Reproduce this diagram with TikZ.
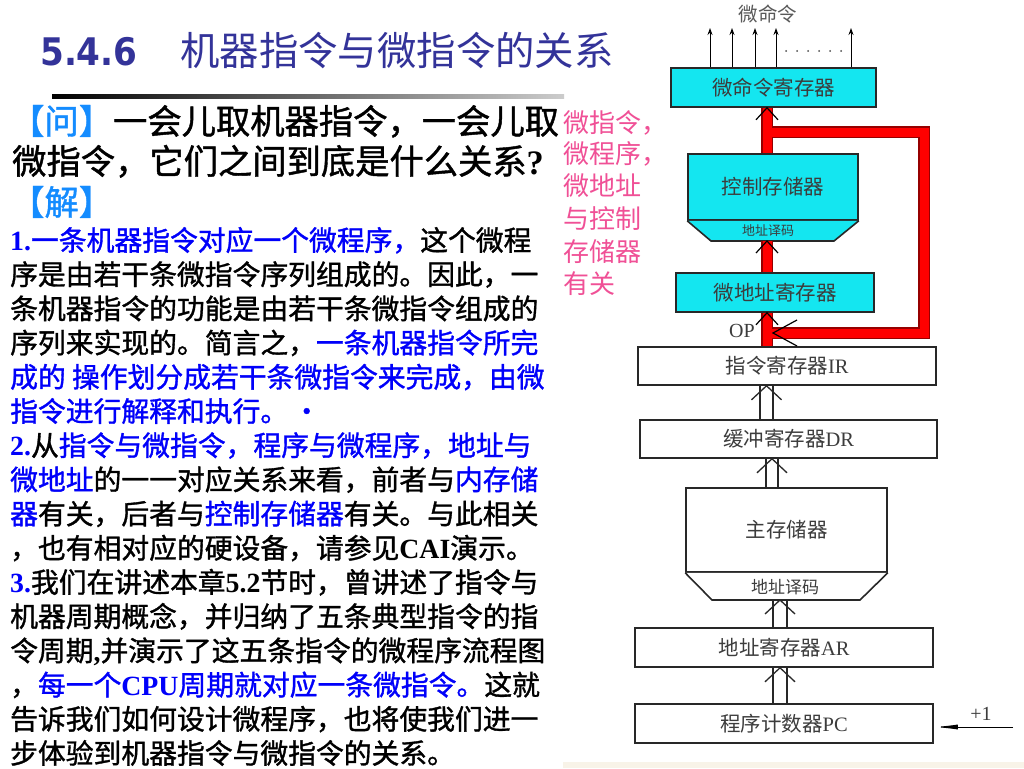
\documentclass[tikz,border=0pt]{standalone}
\usepackage{fontspec}
\usepackage{graphicx}
\setmainfont{Noto Sans CJK SC}
\newfontfamily\heavy{Noto Sans CJK SC}[FakeBold=1.2]
\newfontfamily\tnr{Liberation Serif}
\newfontfamily\djv{DejaVu Sans}
\usetikzlibrary{arrows.meta,calc}
\definecolor{bblue}{RGB}{0,0,250}
\definecolor{qblue}{RGB}{20,140,255}
\definecolor{pinkc}{RGB}{240,80,150}
\definecolor{ttl}{RGB}{51,51,153}
\definecolor{dg}{RGB}{60,60,60}
\definecolor{lc}{RGB}{40,40,40}
\definecolor{cy}{RGB}{20,230,240}
\definecolor{bandedge}{RGB}{150,0,0}
\definecolor{beige}{RGB}{248,243,232}
\newcommand\bl[1]{\textcolor{bblue}{#1}}
\newcommand\lb[1]{{\tnr\bfseries #1}}
\newcommand\hollowarr[4]{%
  \coordinate (ha) at (#3,0);
  \coordinate (hb) at (#4,0);
  \coordinate (hm) at ({(#3+#4)/2},0);
  \draw[dl] (ha |- #1) -- (ha |- #2);
  \draw[dl] (hb |- #1) -- (hb |- #2);
  \draw[dl] ($(hm |- #2)+(-15,14)$) -- (hm |- #2) -- ($(hm |- #2)+(15,14)$);}
\begin{document}
\begin{tikzpicture}[x=1pt,y=-1pt,
  box/.style={draw=lc, line width=1.6pt, inner sep=0pt, text=dg, font=\fontsize{20.5}{22}\selectfont},
  cybox/.style={box, fill=cy},
  wbox/.style={box, fill=white},
  trap/.style={fill=cy, draw=lc, line width=1.6pt},
  dl/.style={draw=lc, line width=1.3pt},
  chev/.style={draw=black, line width=1.2pt},
  up/.style={draw=black, line width=1pt, -{Stealth[length=7pt,width=5pt]}},
  dlabel/.style={inner sep=0pt, text=dg},
  q/.style={anchor=base west, inner sep=0pt, font=\heavy\fontsize{34.3}{36}\selectfont},
  body/.style={anchor=base west, inner sep=0pt, font=\heavy\fontsize{27.8}{30}\selectfont},
  pk/.style={anchor=base west, inner sep=0pt, text=pinkc, font=\fontsize{26}{28}\selectfont}
]
\fill[white] (0,0) rectangle (1024,768);
\useasboundingbox (0,0) rectangle (1024,768);
\fill[beige] (563,762) rectangle (1024,768);

% ---------- title ----------
\node[anchor=base west, inner sep=0pt, text=ttl] (tnum) at (40,65)
  {\djv\bfseries\fontsize{38}{40}\selectfont\scalebox{0.9}[1]{5.4.6}};
\node[anchor=base west, inner sep=0pt, text=ttl, font=\fontsize{39.4}{42}\selectfont] (ttxt) at (180,66)
  {机器指令与微指令的关系};
\shade[left color=black, right color=black!20] (52,94) rectangle (564,98);

% ---------- question ----------
\node[q] (q1) at (10,134) {\textcolor{qblue}{【问】}一会儿取机器指令，一会儿取};
\node[q] (q2) at (12,174) {微指令，它们之间到底是什么关系\lb{?}};
\node[q] (q3) at (10,215) {\textcolor{qblue}{【解】}};

% ---------- body ----------
\node[body] (b1)  at (10,250.6) {\bl{\lb{1.}一条机器指令对应一个微程序，}这个微程};
\node[body] (b2)  at (10,284.8) {序是由若干条微指令序列组成的。因此，一};
\node[body] (b3)  at (10,319.0) {条机器指令的功能是由若干条微指令组成的};
\node[body] (b4)  at (10,353.2) {序列来实现的。简言之，\bl{一条机器指令所完}};
\node[body] (b5)  at (10,387.4) {\bl{成的 操作划分成若干条微指令来完成，由微}};
\node[body] (b6)  at (10,421.6) {\bl{指令进行解释和执行。\,·}};
\node[body] (b7)  at (10,455.8) {\bl{\lb{2.}}从\bl{指令与微指令，程序与微程序，地址与}};
\node[body] (b8)  at (10,490.0) {\bl{微地址}的一一对应关系来看，前者与\bl{内存储}};
\node[body] (b9)  at (10,524.2) {\bl{器}有关，后者与\bl{控制存储器}有关。与此相关};
\node[body] (b10) at (10,558.4) {，也有相对应的硬设备，请参见\lb{CAI}演示。};
\node[body] (b11) at (10,592.6) {\bl{\lb{3.}}我们在讲述本章\lb{5.2}节时，曾讲述了指令与};
\node[body] (b12) at (10,626.8) {机器周期概念，并归纳了五条典型指令的指};
\node[body] (b13) at (10,661.0) {令周期\lb{,}并演示了这五条指令的微程序流程图};
\node[body] (b14) at (10,695.2) {，\bl{每一个\lb{CPU}周期就对应一条微指令。}这就};
\node[body] (b15) at (10,729.4) {告诉我们如何设计微程序，也将使我们进一};
\node[body] (b16) at (10,763.6) {步体验到机器指令与微指令的关系。};

% ---------- pink note ----------
\node[pk] (p1) at (563,132) {微指令，};
\node[pk] (p2) at (563,163) {微程序，};
\node[pk] (p3) at (563,195) {微地址};
\node[pk] (p4) at (563,228) {与控制};
\node[pk] (p5) at (563,261) {存储器};
\node[pk] (p6) at (563,293) {有关};

% ---------- diagram boxes ----------
\node[dlabel, font=\fontsize{19.5}{21}\selectfont, text=black!65] (mcl) at (768,14) {微命令};
\node[cybox, minimum width=205, minimum height=39] (mcr) at (773.5,87.5) {微命令寄存器};
\node[cybox, minimum width=170, minimum height=66] (cm) at (773,187) {控制存储器};
\coordinate (cmbl) at (711,241);
\coordinate (cmbr) at (834,241);
\filldraw[trap] (cm.south west) -- (cmbl) -- (cmbr) -- (cm.south east);
\node[dlabel, font=\fontsize{13}{14}\selectfont] (cmdec) at (768,230.5) {地址译码};
\node[cybox, minimum width=198, minimum height=39] (maddr) at (775,292.5) {微地址寄存器};
\node[wbox, minimum width=298, minimum height=38] (ir) at (787,366) {指令寄存器{\tnr IR}};
\node[wbox, minimum width=297, minimum height=38] (dr) at (788.5,439) {缓冲寄存器{\tnr DR}};
\node[wbox, minimum width=201, minimum height=84] (mm) at (786.5,530) {主存储器};
\coordinate (mmbl) at (712,600);
\coordinate (mmbr) at (860,600);
\filldraw[trap, fill=white] (mm.south west) -- (mmbl) -- (mmbr) -- (mm.south east);
\node[dlabel, font=\fontsize{17}{18}\selectfont] (mmdec) at (785,587) {地址译码};
\node[wbox, minimum width=298, minimum height=39] (ar) at (784,647.5) {地址寄存器{\tnr AR}};
\node[wbox, minimum width=298, minimum height=39] (pc) at (784,723.5) {程序计数器{\tnr PC}};

% ---------- micro-command outputs ----------
\foreach \xx in {710,732,755,776,851} {
  \coordinate (tip\xx) at (\xx,28);
  \draw[up] (tip\xx |- mcr.north) -- (tip\xx);
}
\foreach \xx in {786,797,808,819,830,841} \fill[black!70] (\xx,51) circle (1pt);

% ---------- red bands ----------
\coordinate (bx) at (767,0);
\coordinate (lp1) at (767,132);
\coordinate (lp2) at (924,132);
\coordinate (lp3) at (924,333);
\coordinate (lp4) at (767,333);
\foreach \ww/\bc in {11.5/bandedge,9/red} {
  \draw[line width=\ww pt, \bc] (bx |- ir.north) -- (bx |- maddr.south);
  \draw[line width=\ww pt, \bc] (bx |- maddr.north) -- (bx |- cmbl);
  \draw[line width=\ww pt, \bc] (bx |- cm.north) -- (bx |- mcr.south);
  \draw[line width=\ww pt, \bc, line join=miter] (lp1) -- (lp2) -- (lp3) -- (lp4);
}
\draw[chev] ($(bx |- mcr.south)+(-11,12)$) -- (bx |- mcr.south) -- ($(bx |- mcr.south)+(11,12)$);
\draw[chev] ($(bx |- cmbl)+(-11,12)$) -- (bx |- cmbl) -- ($(bx |- cmbl)+(11,12)$);
\draw[chev] ($(bx |- maddr.south)+(-11,12)$) -- (bx |- maddr.south) -- ($(bx |- maddr.south)+(11,12)$);
\coordinate (lpa) at (773,333);
\draw[chev] ($(lpa)+(24,-13)$) -- (lpa) -- ($(lpa)+(24,13)$);
\node[dlabel, font=\tnr\fontsize{20}{22}\selectfont] (op) at (742,331) {OP};

% ---------- hollow data arrows ----------
\hollowarr{dr.north}{ir.south}{760}{773}
\hollowarr{mm.north}{dr.south}{766}{778}
\hollowarr{ar.north}{mmbl}{773}{787}
\hollowarr{pc.north}{ar.south}{773}{787}

% ---------- +1 ----------
\coordinate (pin) at (1013,727);
\draw[draw=black, line width=1pt, -{Latex[length=24pt,width=5pt]}] (pin) -- (pin -| pc.east);
\node[dlabel, font=\tnr\fontsize{20}{22}\selectfont] (plus) at (981,714) {+1};
\end{tikzpicture}
\end{document}
